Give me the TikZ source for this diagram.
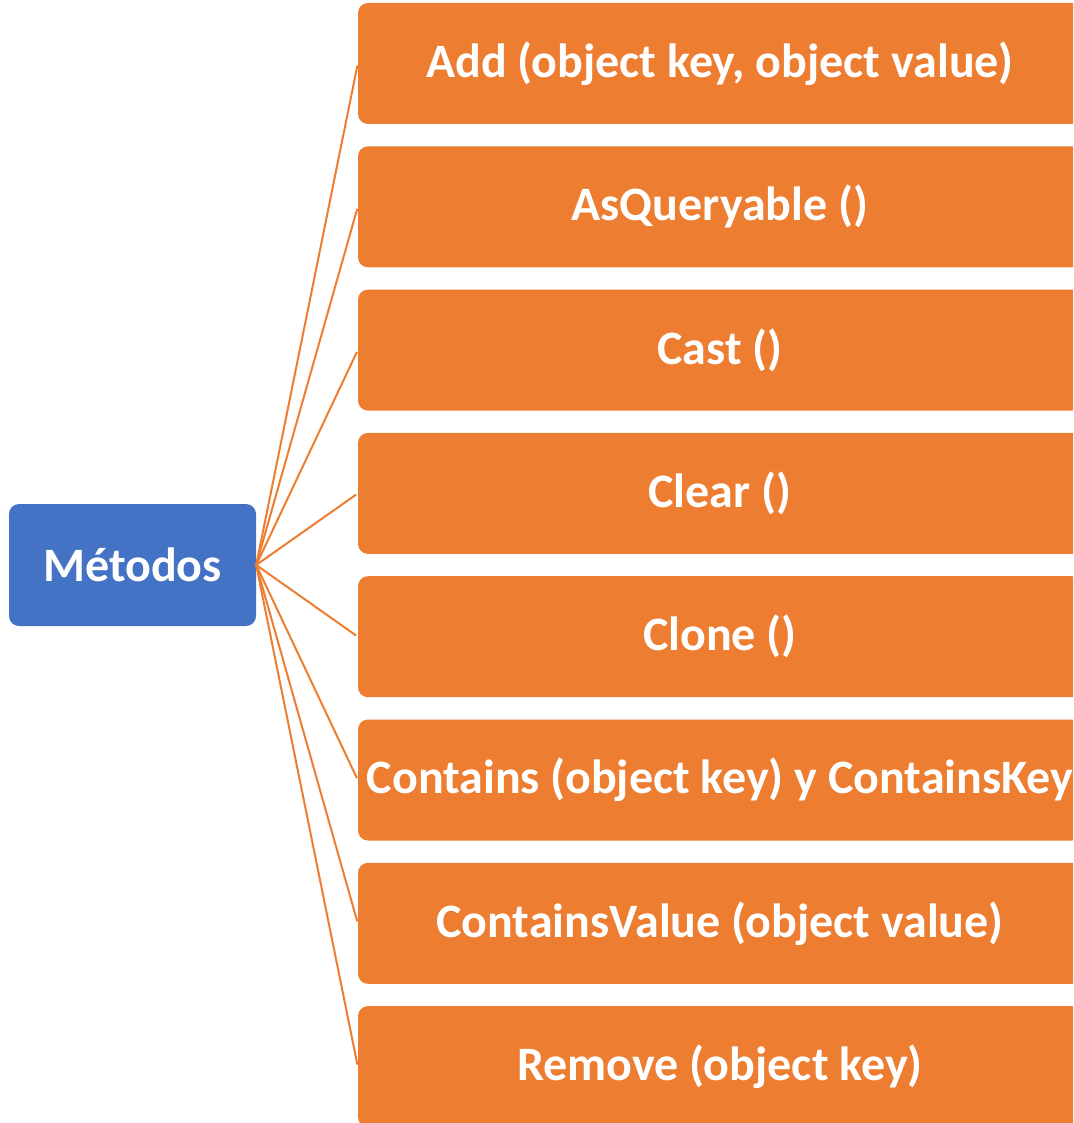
\documentclass[tikz,border=0pt]{standalone}
\usepackage{fontspec}
\setmainfont{Carlito}
\definecolor{orng}{HTML}{ED7D31}
\definecolor{blu}{HTML}{4472C4}
\begin{document}
\begin{tikzpicture}[x=1pt,y=1pt,
  item/.style={fill=orng, rounded corners=10pt, minimum width=724pt, minimum height=121pt, inner sep=0pt, text=white, font=\fontsize{48}{57}\selectfont\bfseries},
  root/.style={fill=blu, rounded corners=10pt, minimum width=247pt, minimum height=122pt, inner sep=0pt, text=white, font=\fontsize{48}{57}\selectfont\bfseries},
  link/.style={draw=orng, line width=2pt, shorten >=2pt}]
\useasboundingbox (0,0) rectangle (1073,-1123);
\clip (0,0) rectangle (1073,-1123);
\node[root] (m) at (132.5,-565) {Métodos};
\node[item] (b1) at (720,-63.5) {Add (object key, object value)};
\node[item] (b2) at (720,-206.8) {AsQueryable ()};
\node[item] (b3) at (720,-350.1) {Cast ()};
\node[item] (b4) at (720,-493.4) {Clear ()};
\node[item] (b5) at (720,-636.7) {Clone ()};
\node[item] (b6) at (720,-780) {Contains (object key) y ContainsKey};
\node[item] (b7) at (720,-923.3) {ContainsValue (object value)};
\node[item] (b8) at (720,-1066.6) {Remove (object key)};
\foreach \i in {1,...,8} {\draw[link] (m.east) -- (b\i.west);}
\end{tikzpicture}
\end{document}
